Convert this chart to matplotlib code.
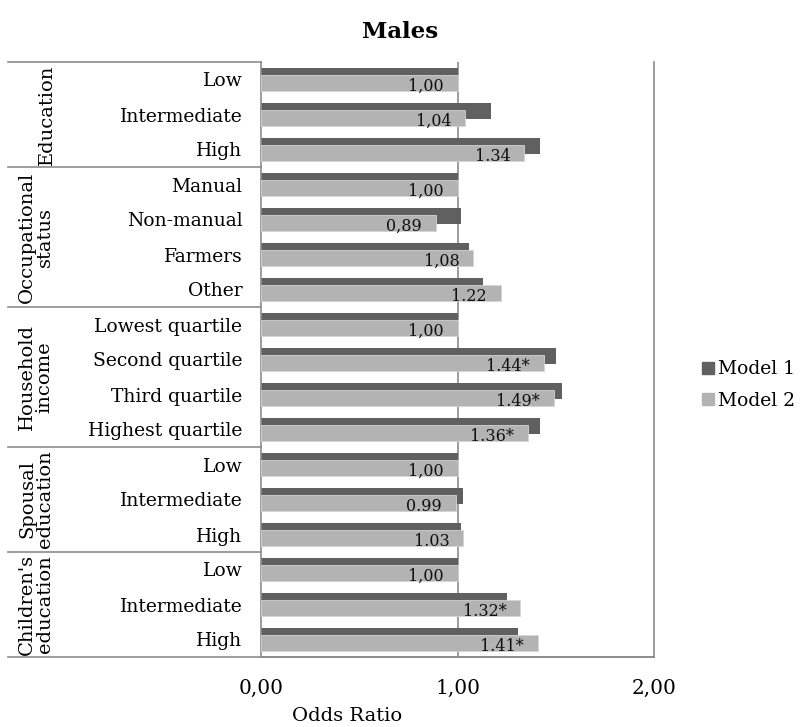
import matplotlib
matplotlib.use("Agg")
import matplotlib.pyplot as plt
from matplotlib.lines import Line2D
import matplotlib.transforms as mtransforms

plt.rcParams['font.family'] = ['DejaVu Serif']

categories = ["Low", "Intermediate", "High",
              "Manual", "Non-manual", "Farmers", "Other",
              "Lowest quartile", "Second quartile", "Third quartile", "Highest quartile",
              "Low", "Intermediate", "High",
              "Low", "Intermediate", "High"]
groups = ["Education", "Occupational\nstatus", "Household\nincome",
          "Spousal\neducation", "Children's\neducation"]
group_sizes = [3, 4, 4, 3, 3]
model1 = [1.00, 1.17, 1.42, 1.00, 1.02, 1.06, 1.13, 1.00, 1.50, 1.53, 1.42,
          1.00, 1.03, 1.02, 1.00, 1.25, 1.31]
model2 = [1.00, 1.04, 1.34, 1.00, 0.89, 1.08, 1.22, 1.00, 1.44, 1.49, 1.36,
          1.00, 0.99, 1.03, 1.00, 1.32, 1.41]
value_labels = ["1,00", "1,04", "1.34", "1,00", "0,89", "1,08", "1.22", "1,00",
                "1.44*", "1.49*", "1.36*", "1,00", "0.99", "1.03", "1,00",
                "1.32*", "1.41*"]
xticks = [0, 1, 2]
xtick_labels = ["0,00", "1,00", "2,00"]
series_names = ["Model 1", "Model 2"]

dark = "#606060"
light = "#b3b3b3"
linec = "#8c8c8c"

W, H = 800, 727
fig = plt.figure(figsize=(8, 7.27), dpi=100)
L, R, T, B = 261, 654, 62, 657
ax = fig.add_axes([L / W, 1 - B / H, (R - L) / W, (B - T) / H])

n = len(categories)
ys = list(range(n))
h = 0.457
off = 0.114
ax.barh([y - off for y in ys], model1, height=h, color=dark, zorder=2)
ax.barh([y + off for y in ys], model2, height=h, color=light, edgecolor="#d4d4d4",
        linewidth=0.6, zorder=3)

for y, v, lab in zip(ys, model2, value_labels):
    ax.annotate(lab, xy=(v, y + off), xytext=(-10, -2), textcoords="offset points",
                ha="right", va="center", fontsize=11.5, color="#111111", zorder=4)

ax.set_xlim(0, 2)
ax.set_ylim(n - 0.5, -0.5)
ax.axvline(1, color=linec, lw=1.2, zorder=1)
ax.set_xticks(xticks)
ax.set_xticklabels(xtick_labels, fontsize=14.5)
ax.set_yticks(ys)
ax.set_yticklabels(categories, fontsize=13.5)
ax.tick_params(axis="both", length=0)
ax.tick_params(axis="y", pad=13.5)
ax.tick_params(axis="x", pad=16)
for s in ["top"]:
    ax.spines[s].set_visible(False)
for s in ["left", "right", "bottom"]:
    ax.spines[s].set_color(linec)
    ax.spines[s].set_linewidth(1.2)

# table lines on the left
trans = mtransforms.blended_transform_factory(ax.transAxes, ax.transData)
xl = (8 - L) / (R - L)
bounds = [-0.5]
acc = -0.5
for g in group_sizes:
    acc += g
    bounds.append(acc)
for i, b in enumerate(bounds):
    xr = 1.0 if i == len(bounds) - 1 else 0.0
    ax.add_line(Line2D([xl, xr], [b, b], transform=trans, color=linec, lw=1.2,
                       clip_on=False))

# group labels
group_x = [47, 36, 36, 36, 36]
for i, (g, gx) in enumerate(zip(groups, group_x)):
    yc = (bounds[i] + bounds[i + 1]) / 2
    xa = (gx - L) / (R - L)
    ax.text(xa, yc, g, transform=trans, rotation=90, ha="center", va="center",
            fontsize=14, linespacing=0.95, multialignment="center")

fig.text(400 / W, 1 - 32 / H, "Males", ha="center", va="center", fontsize=16.5,
         fontweight="bold")
fig.text(347 / W, 1 - 716 / H, "Odds Ratio", ha="center", va="center", fontsize=14)

handles = [Line2D([], [], marker="s", linestyle="none", markersize=8, color=c)
           for c in (dark, light)]
fig.legend(handles, series_names, loc="center left",
           bbox_to_anchor=(692 / W, 1 - 385 / H), frameon=False, fontsize=13.5,
           handlelength=0.7, handletextpad=0.2, labelspacing=0.7, borderpad=0)

fig.savefig("out.png", dpi=100)
